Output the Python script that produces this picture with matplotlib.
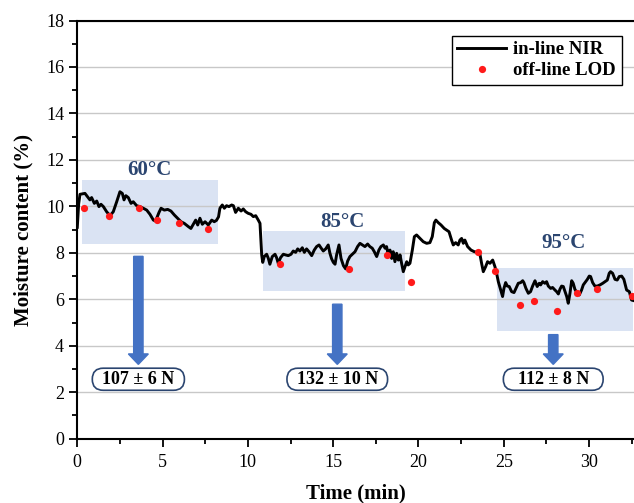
import matplotlib
matplotlib.use("Agg")
import matplotlib.pyplot as plt
from matplotlib.patches import Rectangle, FancyBboxPatch
from matplotlib.ticker import MultipleLocator

plt.rcParams['font.family'] = ['Liberation Serif', 'DejaVu Serif']

# in-line NIR trace (min, %)
nir_time = [0.0, 0.08, 0.16, 0.45, 0.74, 0.84, 1.0, 1.14, 1.27, 1.39, 1.53, 1.72, 1.92, 2.11,
            2.31, 2.5, 2.64, 2.74, 2.85, 2.99, 3.15, 3.28, 3.48, 3.67, 3.87, 4.07, 4.26, 4.46,
            4.59, 4.79, 4.91, 5.1, 5.3, 5.49, 5.69, 5.88, 6.08, 6.27, 6.51, 6.66, 6.8, 6.94,
            7.06, 7.19, 7.33, 7.49, 7.68, 7.88, 8.03, 8.16, 8.28, 8.36, 8.5, 8.62, 8.75, 8.89,
            9.05, 9.15, 9.28, 9.44, 9.6, 9.73, 9.87, 10.02, 10.18, 10.32, 10.46, 10.61, 10.71,
            10.77, 10.81, 10.87, 10.96, 11.1, 11.2, 11.29, 11.43, 11.59, 11.68, 11.78, 11.92,
            12.08, 12.21, 12.37, 12.53, 12.66, 12.8, 12.92, 13.05, 13.19, 13.31, 13.44, 13.58,
            13.74, 13.89, 14.03, 14.17, 14.28, 14.42, 14.56, 14.71, 14.81, 14.91, 15.01, 15.11,
            15.2, 15.34, 15.46, 15.6, 15.73, 15.85, 15.98, 16.12, 16.28, 16.43, 16.57, 16.71,
            16.86, 17.02, 17.15, 17.29, 17.41, 17.55, 17.68, 17.8, 17.94, 18.04, 18.13, 18.23,
            18.33, 18.43, 18.52, 18.62, 18.72, 18.82, 18.92, 19.01, 19.11, 19.21, 19.31, 19.4,
            19.5, 19.64, 19.76, 19.89, 20.09, 20.28, 20.48, 20.67, 20.81, 20.93, 21.02, 21.16,
            21.32, 21.51, 21.65, 21.79, 21.94, 22.04, 22.18, 22.33, 22.43, 22.53, 22.63, 22.72,
            22.88, 23.08, 23.27, 23.47, 23.61, 23.7, 23.8, 23.94, 24.05, 24.19, 24.35, 24.48,
            24.58, 24.68, 24.82, 24.93, 25.01, 25.11, 25.21, 25.32, 25.46, 25.6, 25.71, 25.85,
            25.99, 26.11, 26.18, 26.3, 26.44, 26.57, 26.69, 26.83, 26.96, 27.08, 27.16, 27.28,
            27.41, 27.51, 27.61, 27.75, 27.86, 28.0, 28.1, 28.2, 28.29, 28.39, 28.49, 28.59,
            28.69, 28.78, 28.88, 28.98, 29.07, 29.17, 29.31, 29.43, 29.56, 29.66, 29.76, 29.9,
            30.01, 30.09, 30.21, 30.34, 30.48, 30.64, 30.8, 30.93, 31.07, 31.18, 31.26, 31.38,
            31.52, 31.65, 31.77, 31.91, 32.04, 32.2, 32.36, 32.49, 32.63]
nir_moisture = [9.1, 10.1, 10.52, 10.56, 10.28, 10.38, 10.13, 10.23, 9.99, 10.09, 9.99, 9.77, 9.6,
                9.77, 10.2, 10.63, 10.56, 10.28, 10.46, 10.38, 10.13, 10.2, 10.03, 9.99, 9.92,
                9.84, 9.66, 9.41, 9.37, 9.74, 9.92, 9.84, 9.87, 9.8, 9.63, 9.49, 9.34, 9.27,
                9.13, 9.05, 9.23, 9.41, 9.2, 9.49, 9.23, 9.34, 9.2, 9.41, 9.34, 9.4, 9.55, 9.92,
                10.06, 9.92, 10.03, 9.99, 10.06, 10.03, 9.74, 9.92, 9.8, 9.89, 9.77, 9.7, 9.66,
                9.56, 9.6, 9.41, 9.27, 8.48, 7.91, 7.59, 7.84, 7.94, 7.76, 7.51, 7.84, 7.94, 7.8,
                7.55, 7.8, 7.94, 7.91, 7.88, 7.94, 8.08, 8.02, 8.17, 8.08, 8.22, 8.02, 8.17, 8.05,
                7.88, 8.12, 8.27, 8.34, 8.22, 8.08, 8.17, 8.34, 7.98, 7.74, 7.59, 7.51, 7.91,
                8.34, 7.76, 7.45, 7.31, 7.65, 7.84, 7.94, 8.05, 8.27, 8.41, 8.34, 8.27, 8.38,
                8.27, 8.2, 8.05, 7.84, 8.12, 8.27, 8.34, 8.2, 8.27, 7.91, 8.12, 7.76, 8.05, 7.62,
                7.98, 7.69, 7.91, 7.55, 7.19, 7.41, 7.62, 7.48, 7.55, 8.12, 8.7, 8.77, 8.62,
                8.48, 8.41, 8.44, 8.7, 9.3, 9.41, 9.3, 9.2, 9.05, 8.98, 8.91, 8.55, 8.34, 8.44,
                8.34, 8.55, 8.62, 8.41, 8.55, 8.27, 8.12, 8.05, 8.02, 7.91, 7.55, 7.19, 7.41,
                7.62, 7.55, 7.69, 7.41, 7.12, 6.76, 6.4, 6.12, 6.47, 6.72, 6.57, 6.55, 6.33,
                6.29, 6.47, 6.69, 6.72, 6.8, 6.72, 6.47, 6.26, 6.33, 6.57, 6.8, 6.55, 6.69, 6.62,
                6.76, 6.69, 6.76, 6.57, 6.47, 6.51, 6.4, 6.33, 6.23, 6.43, 6.57, 6.55, 6.33,
                6.12, 5.83, 6.26, 6.8, 6.69, 6.43, 6.26, 6.19, 6.4, 6.62, 6.72, 6.86, 7.0, 6.98,
                6.72, 6.57, 6.57, 6.62, 6.69, 6.76, 6.83, 7.12, 7.19, 7.12, 6.86, 6.83, 6.98,
                7.0, 6.86, 6.4, 6.33, 5.97, 5.94]

# off-line LOD samples
lod_time = [0.41, 1.88, 3.64, 4.65, 5.96, 7.68, 11.88, 15.92, 18.13, 19.55, 23.47, 24.46,
            25.95, 26.79, 28.1, 29.27, 30.46, 32.49]
lod_moisture = [9.92, 9.6, 9.92, 9.41, 9.27, 9.03, 7.51, 7.31, 7.91, 6.76, 8.04, 7.23,
                5.75, 5.94, 5.51, 6.29, 6.43, 6.16]

# temperature stages
temps = ['60°C', '85°C', '95°C']
stage_t = [(0.27, 8.23), (10.9, 19.21), (24.58, 32.6)]
stage_mc = [(8.38, 11.13), (6.35, 8.95), (4.65, 7.36)]
forces = ['107 ± 6 N', '132 ± 10 N', '112 ± 8 N']

navy = '#2b4570'
fig = plt.figure(figsize=(6.34, 5.03), dpi=100)
ax = fig.add_axes([0.1219, 0.1278, 0.878, 0.8314])

for (t0, t1), (m0, m1) in zip(stage_t, stage_mc):
    ax.add_patch(Rectangle((t0, m0), t1 - t0, m1 - m0, facecolor='#dae3f3',
                           edgecolor='none', zorder=0.4))

ax.plot(nir_time, nir_moisture, color='black', lw=2.1, label='in-line NIR', zorder=3)
ax.plot(lod_time, lod_moisture, 'o', color='#ff1a1a', ms=5.2, mew=0,
        label='off-line LOD', zorder=4)

# stage labels, arrows and force boxes
label_pos = [(4.2, 11.55), (15.53, 9.34), (28.49, 8.41)]
arrow_x = [3.58, 15.24, 27.9]
arrow_top = [7.85, 5.79, 4.48]
box_w = [5.4, 5.9, 5.85]
box_h = 0.95
aspect = 17.06 / 23.23   # keeps the rounded ends circular on screen
for name, (lx, ly), ax_x, top, force, bw in zip(temps, label_pos, arrow_x, arrow_top,
                                               forces, box_w):
    ax.text(lx, ly, name, ha='center', va='center', fontsize=15, fontweight='bold',
            color=navy)
    ax.arrow(ax_x, top, 0, 3.2 - top, width=0.55, head_width=1.17, head_length=0.45,
             length_includes_head=True, color='#4472c4', zorder=5)
    ax.add_patch(FancyBboxPatch((ax_x - bw / 2, 2.56 - box_h / 2), bw, box_h,
                                boxstyle='round,pad=0,rounding_size=0.64',
                                mutation_aspect=aspect, facecolor='white',
                                edgecolor=navy, linewidth=1.2, zorder=6))
    ax.text(ax_x, 2.56, force, ha='center', va='center', fontsize=13, fontweight='bold',
            zorder=7)

ax.set_xlim(0, 32.63)
ax.set_ylim(0, 18)
ax.xaxis.set_major_locator(MultipleLocator(5))
ax.xaxis.set_minor_locator(MultipleLocator(2.5))
ax.yaxis.set_major_locator(MultipleLocator(2))
ax.yaxis.set_minor_locator(MultipleLocator(1))
ax.set_axisbelow(True)
ax.grid(axis='y', which='major', color='#c8c8c8', lw=1.0)
ax.spines['right'].set_visible(False)
for s in ['left', 'bottom', 'top']:
    ax.spines[s].set_linewidth(1.5)
ax.tick_params(which='both', direction='out', width=1.3, labelsize=13)
ax.tick_params(which='major', length=6)
ax.tick_params(which='minor', length=3.5)
ax.tick_params(axis='x', pad=5)

ax.set_xlabel('Time (min)', fontsize=15, fontweight='bold', labelpad=9)
ax.set_ylabel('Moisture content (%)', fontsize=15, fontweight='bold', labelpad=9)

leg = ax.legend(loc='upper right', bbox_to_anchor=(0.978, 0.9637), borderaxespad=0,
                fancybox=False, edgecolor='black', framealpha=1, handlelength=2.6,
                prop={'weight': 'bold', 'size': 13.5}, borderpad=0.3, labelspacing=0.2,
                handletextpad=0.4)
leg.get_frame().set_linewidth(1.0)

fig.savefig('out.png', dpi=100)
